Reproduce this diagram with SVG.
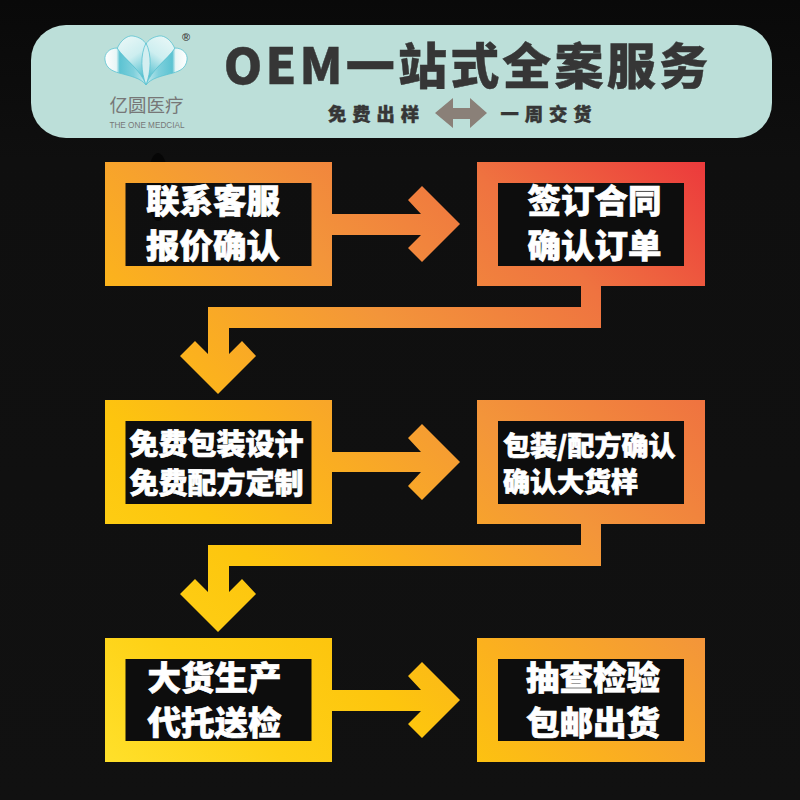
<svg xmlns="http://www.w3.org/2000/svg" xmlns:xlink="http://www.w3.org/1999/xlink" width="800" height="800" viewBox="0 0 800 800">
<defs>
<linearGradient id="bg" x1="0" y1="0" x2="0" y2="1"><stop offset="0" stop-color="#090909"/><stop offset=".2" stop-color="#0f0f0f"/><stop offset="1" stop-color="#111"/></linearGradient>
<linearGradient id="g" gradientUnits="userSpaceOnUse" x1="105" y1="762" x2="705" y2="162">
<stop offset="0" stop-color="#ffe02a"/><stop offset=".15" stop-color="#fed015"/><stop offset=".29" stop-color="#fdc50e"/><stop offset=".42" stop-color="#fbb01f"/><stop offset=".6" stop-color="#f3953a"/><stop offset=".8" stop-color="#ef7340"/><stop offset="1" stop-color="#ec3a3c"/>
</linearGradient>
<linearGradient id="top" x1="0" y1="0" x2=".4" y2="1"><stop offset="0" stop-color="#eef9f8"/><stop offset=".55" stop-color="#cdeef0"/><stop offset="1" stop-color="#5cc3d2"/></linearGradient>
<linearGradient id="lobe" x1="0" y1="0" x2="1" y2="0"><stop offset="0" stop-color="#ffffff"/><stop offset=".28" stop-color="#e8f6f6"/><stop offset=".36" stop-color="#5cc3d2"/><stop offset=".7" stop-color="#7fd0dc"/><stop offset="1" stop-color="#c6e9ec"/></linearGradient>
<g id="half">
<path d="M146 85C141 70 125 60 117 49C120 41 127 35 133 36C139 37 144 40 146 44Z" fill="url(#top)" stroke="#5cc3d2" stroke-width=".8"/>
<path d="M117 48C109 48 104 54 105 60C106 68 112 71 119 73C130 76 141 78 146 85C141 70 125 60 117 48Z" fill="url(#lobe)" stroke="#5cc3d2" stroke-width=".8"/>
</g>
</defs>
<style>
.frame{fill:url(#g)}
.inner{fill:#0d0d0d}
.flow{fill:url(#g)}
.t{font-family:"Noto Sans CJK SC",sans-serif;font-weight:900;fill:#fff;stroke:#fff;stroke-width:.7;text-anchor:middle}
.b{font-size:33.500px}
.m{font-size:29px}
.s{font-size:27px;text-anchor:start}
.h{font-family:"Noto Sans CJK SC",sans-serif;font-weight:900;fill:#363636;stroke:#363636;text-anchor:middle}
</style>
<rect width="800" height="800" fill="url(#bg)"/>
<ellipse cx="158" cy="187" rx="11" ry="34" fill="#060606"/>
<g id="header">
<rect x="31" y="25" width="741" height="113" rx="35" fill="#bcdfd9"/>
<g id="logo">
<use xlink:href="#half" href="#half"/>
<use xlink:href="#half" href="#half" transform="translate(292 0) scale(-1 1)"/>
<path d="M146 85C141 72 140 55 146 43C152 55 151 72 146 85Z" fill="#d3eef0" stroke="#5cc3d2" stroke-width=".8"/>
<text x="186" y="41" font-family="Liberation Sans,sans-serif" font-size="11" font-weight="700" fill="#444" text-anchor="middle">®</text>
<text x="146.500" y="112" font-family="Noto Sans CJK SC,sans-serif" font-size="18.500" fill="#777" text-anchor="middle">亿圆医疗</text>
<text x="147" y="128" font-family="Liberation Sans,sans-serif" font-size="8.200" fill="#777" text-anchor="middle">THE ONE MEDCIAL</text>
</g>
<text class="h" x="467.500" y="84" font-size="49" letter-spacing="3.200" stroke-width=".4">OEM一站式全案服务</text>
<text class="h" x="376.500" y="121" font-size="18.300" letter-spacing="6" stroke-width=".4">免费出样</text>
<text class="h" x="549" y="121" font-size="18.300" letter-spacing="6" stroke-width=".4">一周交货</text>
<path d="M435 113L453 98V108H470V98L487 113L470 128V119H453V128Z" fill="#8a8078"/>
</g>
<g id="connectors">
<path class="flow" d="M332 214H421L408 200L422 186L460 224L422 262L408 248L421 235H332Z"/>
<path class="flow" d="M332 452H421L408 438L422 424L460 462L422 500L408 486L421 472H332Z"/>
<path class="flow" d="M332 690H421L408 676L422 662L460 700L422 738L408 724L421 711H332Z"/>
<path class="flow" d="M581 286V307H208V354L195 341L180 356L218 394L256 356L242 341L229 354V328H601V286Z"/>
<path class="flow" d="M581 524V545H208V592L195 579L180 594L218 632L256 594L242 579L229 592V566H601V524Z"/>
</g>
<g id="node1">
<path class="frame" fill-rule="evenodd" d="M105 162H332V286H105ZM125.500 183V266H311.500V183Z"/>
<text class="t b" x="213" y="213">联系客服</text>
<text class="t b" x="213" y="258">报价确认</text>
</g>
<g id="node2">
<rect class="frame" x="477" y="162" width="228" height="124"/>
<rect class="inner" x="498" y="183" width="186" height="83"/>
<text class="t b" x="594.500" y="213">签订合同</text>
<text class="t b" x="594.500" y="258">确认订单</text>
</g>
<g id="node3">
<rect class="frame" x="105" y="400" width="227" height="124"/>
<rect class="inner" x="125.500" y="421" width="186" height="83"/>
<text class="t m" x="216.500" y="455">免费包装设计</text>
<text class="t m" x="216.500" y="494">免费配方定制</text>
</g>
<g id="node4">
<rect class="frame" x="477" y="400" width="228" height="124"/>
<rect class="inner" x="498" y="421" width="186" height="83"/>
<text class="t s" x="503" y="456">包装/配方确认</text>
<text class="t s" x="503" y="492">确认大货样</text>
</g>
<g id="node5">
<rect class="frame" x="105" y="638" width="227" height="124"/>
<rect class="inner" x="125.500" y="659" width="186" height="82"/>
<text class="t b" x="214.500" y="690">大货生产</text>
<text class="t b" x="214.500" y="735">代托送检</text>
</g>
<g id="node6">
<rect class="frame" x="477" y="638" width="228" height="124"/>
<rect class="inner" x="498" y="659" width="186" height="82"/>
<text class="t b" x="593" y="690">抽查检验</text>
<text class="t b" x="593" y="735">包邮出货</text>
</g>
</svg>
